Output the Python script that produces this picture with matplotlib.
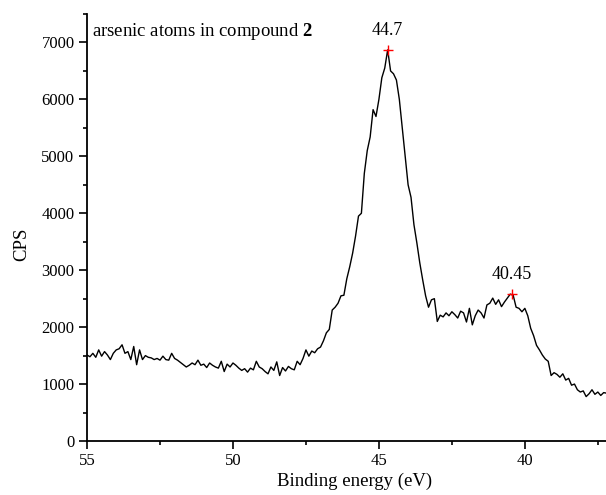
import numpy as np
import matplotlib
matplotlib.use("Agg")
import matplotlib.pyplot as plt
from matplotlib.ticker import MultipleLocator

plt.rcParams['font.family'] = ['Liberation Serif', 'DejaVu Serif']
plt.rcParams['mathtext.fontset'] = 'custom'
plt.rcParams['mathtext.rm'] = 'Liberation Serif'
plt.rcParams['mathtext.bf'] = 'Liberation Serif:bold'

# Binding energy grid (eV), 0.1 eV step from 55.0 down to 37.2
energy = np.round(np.arange(55.0, 37.15, -0.1), 2)

cps = [
    # 55.0 - 54.0
    1510, 1480, 1540, 1470, 1600, 1490, 1570, 1510, 1430, 1540, 1600,
    # 53.9 - 53.0
    1620, 1690, 1540, 1570, 1430, 1660, 1340, 1600, 1430, 1500,
    # 52.9 - 52.0
    1470, 1460, 1430, 1450, 1420, 1490, 1430, 1420, 1540, 1450,
    # 51.9 - 51.0
    1420, 1380, 1340, 1300, 1330, 1370, 1340, 1420, 1330, 1350,
    # 50.9 - 50.0
    1290, 1370, 1330, 1300, 1280, 1400, 1220, 1350, 1300, 1370,
    # 49.9 - 49.0
    1330, 1280, 1240, 1270, 1210, 1280, 1250, 1400, 1300, 1270,
    # 48.9 - 48.0
    1220, 1180, 1300, 1240, 1390, 1150, 1290, 1230, 1310, 1270,
    # 47.9 - 47.0
    1250, 1400, 1340, 1450, 1600, 1490, 1580, 1550, 1620, 1650,
    # 46.9 - 46.0
    1760, 1900, 1960, 2300, 2350, 2420, 2550, 2560, 2850, 3060,
    # 45.9 - 45.0
    3300, 3600, 3950, 4000, 4700, 5100, 5340, 5820, 5700, 6000,
    # 44.9 - 44.0
    6380, 6550, 6870, 6500, 6450, 6340, 6000, 5500, 5000, 4500,
    # 43.9 - 43.0
    4280, 3800, 3480, 3130, 2830, 2550, 2350, 2480, 2500, 2100,
    # 42.9 - 42.0
    2210, 2180, 2250, 2200, 2270, 2220, 2160, 2280, 2250, 2090,
    # 41.9 - 41.0
    2330, 2040, 2200, 2300, 2250, 2160, 2390, 2420, 2510, 2400,
    # 40.9 - 40.0
    2480, 2360, 2440, 2510, 2580, 2560, 2350, 2330, 2270, 2330,
    # 39.9 - 39.0
    2200, 1980, 1850, 1680, 1600, 1510, 1440, 1400, 1150, 1200,
    # 38.9 - 38.0
    1170, 1120, 1180, 1070, 1100, 980, 1000, 900, 860, 880,
    # 37.9 - 37.2
    780, 830, 900, 820, 860, 800, 850, 840,
]

peak_x = [44.7, 40.45]
peak_y = [6870, 2580]
peak_labels = ["44.7", "40.45"]

fig = plt.figure(figsize=(6.06, 4.95), dpi=100)
ax = fig.add_axes([0.1436, 0.1091, 0.8564, 0.8626])

n = min(len(energy), len(cps))
ax.plot(energy[:n], cps[:n], color='black', lw=1.0)
ax.plot(peak_x, peak_y, linestyle='none', marker='+', color='red',
        markersize=7, markeredgewidth=1.0)
for px, py, lab in zip(peak_x, peak_y, peak_labels):
    ax.annotate(lab, (px, py), xytext=(0, 8), textcoords='offset points',
                ha='center', va='bottom', fontsize=13)

ax.set_xlim(55, 37.22)
ax.set_ylim(0, 7500)
ax.xaxis.set_major_locator(MultipleLocator(5))
ax.xaxis.set_minor_locator(MultipleLocator(2.5))
ax.yaxis.set_major_locator(MultipleLocator(1000))
ax.yaxis.set_minor_locator(MultipleLocator(500))

for s in ['top', 'right']:
    ax.spines[s].set_visible(False)
for s in ['left', 'bottom']:
    ax.spines[s].set_linewidth(1.3)

ax.tick_params(which='major', direction='out', length=6, width=1.2,
               labelsize=12, pad=3)
ax.tick_params(which='minor', direction='out', length=3, width=1.2)

ax.set_xlabel("Binding energy (eV)", fontsize=13.5, labelpad=0)
ax.xaxis.set_label_coords(0.515, -0.075)
ax.set_ylabel("CPS", fontsize=13.5)
ax.yaxis.set_label_coords(-0.11, 0.46)

ax.text(0.01, 0.983, r"arsenic atoms in compound $\mathbf{2}$",
        transform=ax.transAxes, ha='left', va='top', fontsize=13.5)

fig.savefig("out.png", dpi=100)
